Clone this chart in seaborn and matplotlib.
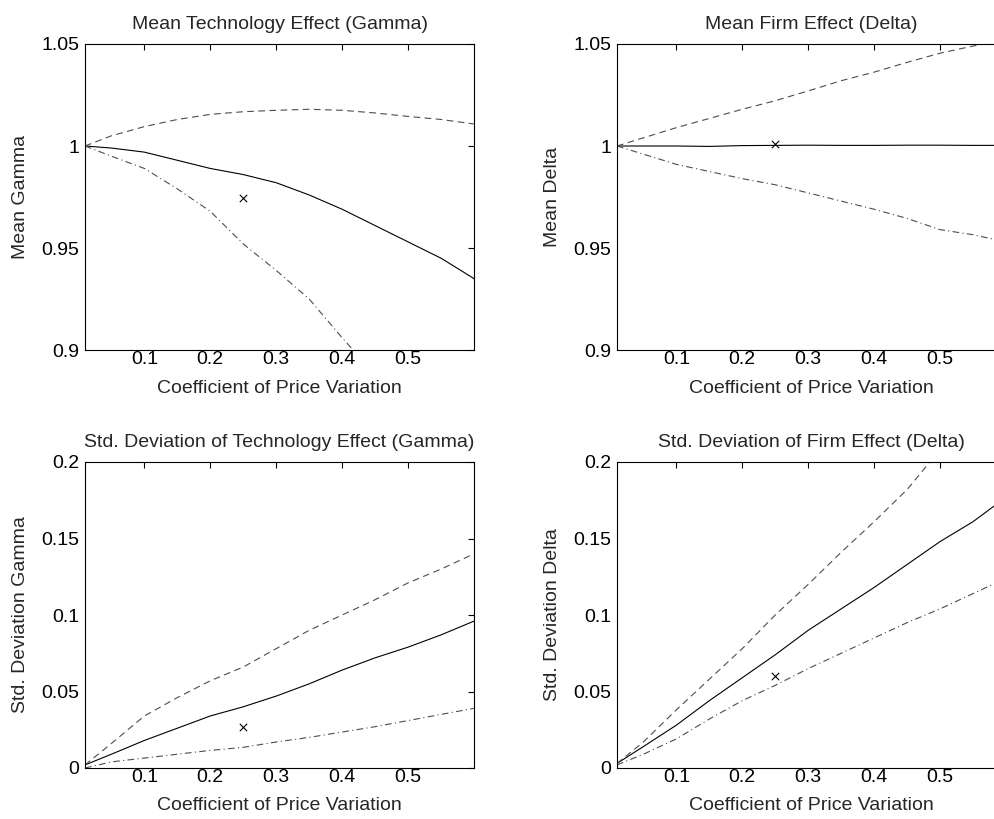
import matplotlib
matplotlib.use("Agg")
from matplotlib import pyplot as plt
import seaborn as sns
import pandas as pd

# coefficient of price variation grid
cv = [0.01, 0.05, 0.10, 0.15, 0.20, 0.25, 0.30, 0.35, 0.40, 0.45, 0.50, 0.55, 0.60]

# mean gamma
gamma_mean = [1.000, 0.999, 0.997, 0.993, 0.989, 0.986, 0.982, 0.976, 0.969, 0.961, 0.953, 0.945, 0.935]
gamma_mean_hi = [1.000, 1.005, 1.0095, 1.013, 1.0155, 1.0168, 1.0175, 1.018, 1.0175, 1.0162, 1.0145, 1.013, 1.0108]
gamma_mean_lo = [1.000, 0.995, 0.989, 0.979, 0.968, 0.952, 0.939, 0.925, 0.906, 0.888, 0.870, 0.850, 0.830]

# mean delta
delta_mean = [1.000, 1.000, 1.000, 0.9998, 1.0002, 1.0003, 1.0004, 1.0003, 1.0003, 1.0004, 1.0004, 1.0003, 1.0003]
delta_mean_hi = [1.000, 1.004, 1.009, 1.0135, 1.018, 1.0222, 1.027, 1.032, 1.0362, 1.041, 1.0455, 1.049, 1.052]
delta_mean_lo = [1.000, 0.996, 0.991, 0.9875, 0.984, 0.981, 0.977, 0.973, 0.969, 0.9645, 0.959, 0.9565, 0.953]

# std gamma
gamma_std = [0.002, 0.009, 0.018, 0.026, 0.034, 0.040, 0.047, 0.055, 0.064, 0.072, 0.079, 0.087, 0.096]
gamma_std_hi = [0.002, 0.016, 0.034, 0.046, 0.057, 0.066, 0.078, 0.090, 0.100, 0.110, 0.121, 0.130, 0.140]
gamma_std_lo = [0.000, 0.004, 0.0065, 0.009, 0.0115, 0.0135, 0.017, 0.020, 0.0235, 0.027, 0.031, 0.035, 0.039]

# std delta
delta_std = [0.003, 0.014, 0.028, 0.044, 0.059, 0.074, 0.090, 0.104, 0.118, 0.133, 0.148, 0.161, 0.177]
delta_std_hi = [0.003, 0.017, 0.038, 0.058, 0.078, 0.100, 0.120, 0.141, 0.161, 0.182, 0.208, 0.230, 0.252]
delta_std_lo = [0.002, 0.009, 0.019, 0.032, 0.044, 0.054, 0.065, 0.075, 0.085, 0.095, 0.104, 0.114, 0.124]

# point estimate at cv = 0.25
point_x = 0.25
point_y = [0.9745, 1.001, 0.027, 0.060]

titles = ["Mean Technology Effect (Gamma)", "Mean Firm Effect (Delta)",
          "Std. Deviation of Technology Effect (Gamma)", "Std. Deviation of Firm Effect (Delta)"]
ylabels = ["Mean Gamma", "Mean Delta", "Std. Deviation Gamma", "Std. Deviation Delta"]
xlabel = "Coefficient of Price Variation"
xticks = [0.1, 0.2, 0.3, 0.4, 0.5]
xticklabels = ["0.1", "0.2", "0.3", "0.4", "0.5"]
yticks_mean = [0.9, 0.95, 1.0, 1.05]
yticklabels_mean = ["0.9", "0.95", "1", "1.05"]
yticks_std = [0, 0.05, 0.1, 0.15, 0.2]
yticklabels_std = ["0", "0.05", "0.1", "0.15", "0.2"]

series = [
    (gamma_mean, gamma_mean_hi, gamma_mean_lo),
    (delta_mean, delta_mean_hi, delta_mean_lo),
    (gamma_std, gamma_std_hi, gamma_std_lo),
    (delta_std, delta_std_hi, delta_std_lo),
]

sns.set_style("white")
plt.rcParams['font.family'] = ['Liberation Sans', 'DejaVu Sans']

fig = plt.figure(figsize=(9.94, 8.19), dpi=100)
W, H = 994, 819
boxes = [(85, 44), (617, 44), (85, 462), (617, 462)]
aw, ah = 389, 306

for i, (x0, y0) in enumerate(boxes):
    ax = fig.add_axes([x0 / W, 1 - (y0 + ah) / H, aw / W, ah / H])
    mid, hi, lo = series[i]
    df = pd.DataFrame({"cv": cv, "mid": mid, "hi": hi, "lo": lo})
    sns.lineplot(data=df, x="cv", y="mid", ax=ax, color="black", lw=0.8)
    sns.lineplot(data=df, x="cv", y="hi", ax=ax, color="0.3", lw=0.8, dashes=False,
                 linestyle=(0, (6, 4)))
    sns.lineplot(data=df, x="cv", y="lo", ax=ax, color="0.3", lw=0.8, dashes=False,
                 linestyle=(0, (6, 3, 1, 3)))
    sns.scatterplot(x=[point_x], y=[point_y[i]], ax=ax, marker="x", color="black",
                    s=28, linewidth=0.8)

    ax.set_xlim(0.01, 0.6)
    ax.set_xticks(xticks)
    ax.set_xticklabels(xticklabels)
    if i < 2:
        ax.set_ylim(0.9, 1.05)
        ax.set_yticks(yticks_mean)
        ax.set_yticklabels(yticklabels_mean)
    else:
        ax.set_ylim(0, 0.2)
        ax.set_yticks(yticks_std)
        ax.set_yticklabels(yticklabels_std)

    ax.set_title(titles[i], fontsize=14, pad=10.5)
    ax.set_xlabel(xlabel, fontsize=14, labelpad=8)
    ax.set_ylabel(ylabels[i], fontsize=14, labelpad=9)
    ax.tick_params(axis="both", direction="in", length=4, width=0.8, top=True, right=True,
                   labelsize=14, colors="black")
    ax.tick_params(axis="x", pad=1)
    ax.tick_params(axis="y", pad=4)
    for sp in ax.spines.values():
        sp.set_visible(True)
        sp.set_color("black")
        sp.set_linewidth(0.8)

plt.savefig("out.png", dpi=100)
